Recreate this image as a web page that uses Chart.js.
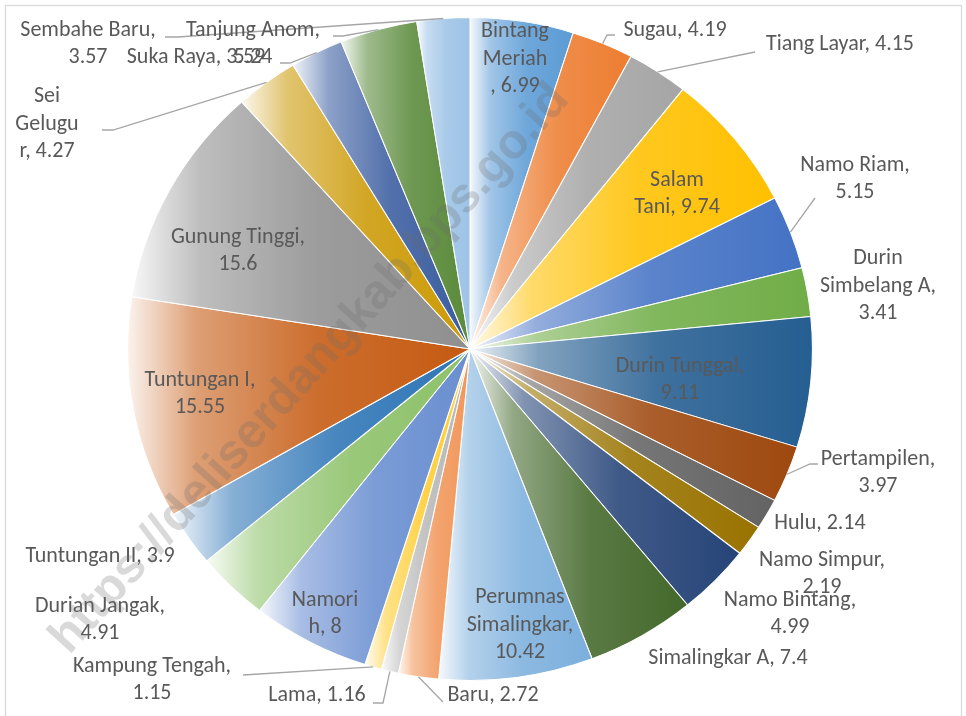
<!DOCTYPE html>
<html lang="id">
<head>
<meta charset="utf-8">
<title>Luas Desa</title>
<script src="https://cdn.jsdelivr.net/npm/chart.js@4.4.1/dist/chart.umd.min.js"></script>
<style>
  html, body { margin: 0; padding: 0; background: #fff; }
  #wadah { position: relative; width: 966px; height: 716px; }
</style>
</head>
<body>
<div id="wadah"><canvas id="grafico"></canvas></div>
<script>
// datos
const desa = ['Bintang Meriah', 'Sugau', 'Tiang Layar', 'Salam Tani', 'Namo Riam', 'Durin Simbelang A',
  'Durin Tunggal', 'Pertampilen', 'Hulu', 'Namo Simpur', 'Namo Bintang', 'Simalingkar A',
  'Perumnas Simalingkar', 'Baru', 'Lama', 'Kampung Tengah', 'Namorih', 'Durian Jangak',
  'Tuntungan II', 'Tuntungan I', 'Gunung Tinggi', 'Sei Gelugur', 'Suka Raya', 'Tanjung Anom', 'Sembahe Baru'];
const luas = [6.99, 4.19, 4.15, 9.74, 5.15, 3.41, 9.11, 3.97, 2.14, 2.19, 4.99, 7.4,
  10.42, 2.72, 1.16, 1.15, 8, 4.91, 3.9, 15.55, 15.6, 4.27, 3.59, 5.24, 3.57];

const colores = ['#5B9BD5', '#ED7D31', '#A5A5A5', '#FFC000', '#4472C4', '#70AD47',
  '#255E91', '#9E480E', '#636363', '#997300', '#264478', '#43682B',
  '#7CAFDD', '#F1975A', '#B7B7B7', '#FFCD33', '#698ED0', '#8CC168',
  '#2E75B6', '#C55A11', '#8F8F8F', '#CC9A06', '#3A5DA0', '#5A8A3A', '#9DC3E6'];

// cortes de linea de cada etiqueta (indices de caracter)
const cortes = [[7, 14], [], [], [5], [10], [5, 18], [14], [12], [], [12], [13], [],
  [8, 21], [], [], [15], [6], [14], [], [12], [14], [3, 10], [], [13], [13]];

// centro de cada etiqueta, relativo al centro del pastel
const posEtiqueta = [[45, -290], [205, -319], [370, -305], [207, -155], [385, -170], [408, -63],
  [210, 31], [408, 124], [350, 174], [352, 225], [320, 265], [258, 309],
  [50, 276], [23, 346], [-153, 346], [-318, 331], [-145, 265], [-370, 271],
  [-370, 207], [-270, 45], [-232, -98], [-423, -225], [-274, -292], [-217, -305], [-382, -305]];

// lineas guia: puntos del lado de la etiqueta
const guias = {
  1: [[145, -314], [137, -314]],
  2: [[285, -297]],
  4: [[345, -151]],
  7: [[348, 115], [340, 115]],
  13: [[-27, 353]],
  14: [[-97, 354], [-87, 354]],
  15: [[-227, 326]],
  21: [[-368, -219], [-357, -219]],
  22: [[-190, -286], [-180, -286]],
  23: [[-137, -313], [-127, -313]],
  24: [[-305, -312], [-292, -312]]
};

const fuente = 'Carlito, Lato, "Open Sans", sans-serif';
const tamFuente = 22;
const altoLinea = 27.5;
const estirarX = 1.033;

function mezclar(hex, t) {
  const n = parseInt(hex.slice(1), 16);
  const r = (n >> 16) & 255, g = (n >> 8) & 255, b = n & 255;
  const f = v => Math.round(v + (255 - v) * t);
  return `rgb(${f(r)},${f(g)},${f(b)})`;
}

function rellenoPorcion(ctx) {
  const base = colores[ctx.dataIndex];
  const arc = ctx.element;
  if (!arc || arc.outerRadius == null || isNaN(arc.outerRadius)) return base;
  const { x, startAngle, endAngle, outerRadius } = arc;
  const xs = [x, x + Math.cos(startAngle) * outerRadius, x + Math.cos(endAngle) * outerRadius];
  if (startAngle < 0 && endAngle > 0) xs.push(x + outerRadius);
  if (startAngle < Math.PI && endAngle > Math.PI) xs.push(x - outerRadius);
  const x0 = Math.min(...xs), x1 = Math.max(...xs);
  const grad = ctx.chart.ctx.createLinearGradient(x0, 0, x1 + 0.01, 0);
  grad.addColorStop(0, mezclar(base, 0.93));
  grad.addColorStop(0.2, mezclar(base, 0.42));
  grad.addColorStop(0.55, mezclar(base, 0.12));
  grad.addColorStop(1, base);
  return grad;
}

function partir(texto, idx) {
  const lineas = [];
  let ini = 0;
  idx.forEach(k => { lineas.push(texto.slice(ini, k).trim()); ini = k; });
  lineas.push(texto.slice(ini).trim());
  return lineas;
}

const marco = {
  id: 'marco',
  beforeDraw(chart) {
    const c = chart.ctx;
    c.save();
    c.strokeStyle = '#d9d9d9';
    c.lineWidth = 1.3;
    c.strokeRect(5.5, 5.5, 956, 730);
    c.restore();
  }
};

const etiquetas = {
  id: 'etiquetas',
  beforeDatasetsDraw(chart) {
    // el pastel original esta un poco estirado en horizontal
    const arc = chart.getDatasetMeta(0).data[0];
    const c = chart.ctx;
    c.save();
    c.translate(arc.x, arc.y);
    c.scale(estirarX, 1);
    c.translate(-arc.x, -arc.y);
  },
  afterDatasetsDraw(chart) {
    const c = chart.ctx;
    c.restore();
    const arcs = chart.getDatasetMeta(0).data;
    c.save();
    c.strokeStyle = '#a6a6a6';
    c.lineWidth = 1.3;
    arcs.forEach((arc, i) => {
      const g = guias[i];
      if (!g) return;
      const mid = (arc.startAngle + arc.endAngle) / 2;
      c.beginPath();
      c.moveTo(arc.x + g[0][0], arc.y + g[0][1]);
      g.slice(1).forEach(p => c.lineTo(arc.x + p[0], arc.y + p[1]));
      c.lineTo(arc.x + Math.cos(mid) * arc.outerRadius * estirarX, arc.y + Math.sin(mid) * arc.outerRadius);
      c.stroke();
    });
    c.font = `${tamFuente}px ${fuente}`;
    c.fillStyle = '#595959';
    c.textAlign = 'center';
    c.textBaseline = 'middle';
    arcs.forEach((arc, i) => {
      const lineas = partir(`${desa[i]}, ${luas[i]}`, cortes[i]);
      const cx = arc.x + posEtiqueta[i][0];
      const y0 = arc.y + posEtiqueta[i][1] - (lineas.length - 1) * altoLinea / 2;
      lineas.forEach((l, k) => c.fillText(l, cx, y0 + k * altoLinea));
    });
    c.restore();
  },
  afterDraw(chart) {
    // marca de agua
    const c = chart.ctx;
    const arc = chart.getDatasetMeta(0).data[0];
    const texto = 'https://deliserdangkab.bps.go.id';
    c.save();
    c.font = 'bold 44px "Liberation Sans", Arial, sans-serif';
    const tam = 44 * 748 / c.measureText(texto).width;
    c.font = `bold ${tam}px "Liberation Sans", Arial, sans-serif`;
    c.translate(arc.x - 160, arc.y + 20);
    c.rotate(-47.9 * Math.PI / 180);
    c.fillStyle = 'rgba(110,110,110,0.26)';
    c.textAlign = 'center';
    c.textBaseline = 'middle';
    c.fillText(texto, 0, 0);
    c.restore();
  }
};

const ctx = document.getElementById('grafico').getContext('2d');
const grafico = new Chart(ctx, {
  type: 'pie',
  data: {
    labels: desa,
    datasets: [{
      data: luas,
      backgroundColor: rellenoPorcion,
      borderColor: '#ffffff',
      borderWidth: 1,
      hoverOffset: 0
    }]
  },
  options: {
    responsive: true,
    maintainAspectRatio: false,
    animation: false,
    layout: { padding: { left: 138, right: 164, top: 17, bottom: 35 } },
    plugins: {
      legend: { display: false },
      tooltip: { enabled: false }
    }
  },
  plugins: [marco, etiquetas]
});
grafico.update('none');
</script>
</body>
</html>
